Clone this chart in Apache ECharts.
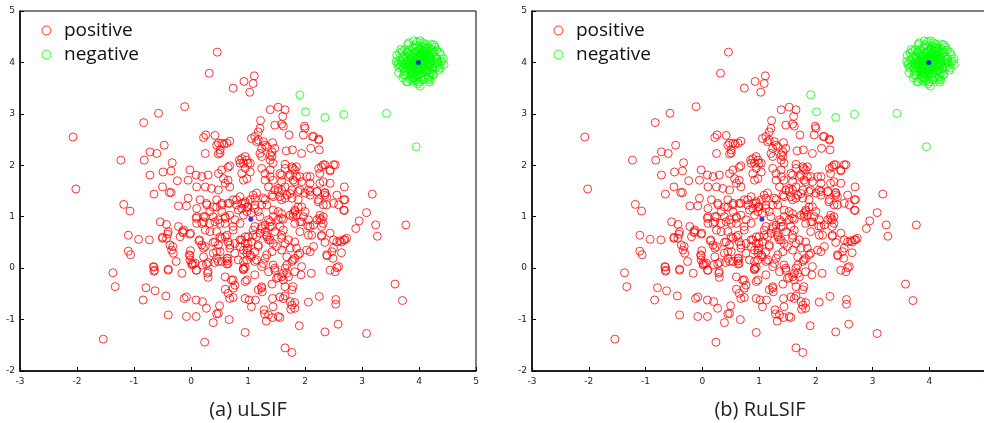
<!DOCTYPE html>
<html>
<head>
<meta charset="utf-8">
<script src="https://cdn.jsdelivr.net/npm/echarts@6/dist/echarts.min.js"></script>
<style>html,body{margin:0;padding:0;background:#fff;overflow:hidden;width:984px;height:423px}#c{width:992px;height:423px}</style>
</head>
<body>
<div id="c"></div>
<script>
var positive = [
[0.46,4.20],[0.32,3.79],[0.93,3.63],[0.74,3.50],[1.03,3.42],[1.11,3.74],[1.09,3.59],
[-0.11,3.14],[-0.57,3.01],[-0.83,2.83],[-2.07,2.55],[-1.23,2.10],[-2.02,1.54],
[1.39,3.08],[1.53,3.13],[1.65,3.08],[1.61,2.95],[1.22,2.87],[1.47,2.78],[1.59,2.80],[1.62,2.76],[1.21,2.72],[1.18,2.65],
[1.99,2.76],[2.00,2.72],[1.97,2.59],[1.72,2.59],[2.13,2.56],[2.24,2.51],
[1.12,2.56],[1.18,2.49],[1.27,2.46],[1.43,2.44],[1.33,2.36],
[0.22,2.54],[0.26,2.59],[0.42,2.58],[0.48,2.43],[0.58,2.41],[0.68,2.47],[0.25,2.23],[0.48,2.22],[0.51,2.24],
[-0.47,2.39],[-0.72,2.26],[-0.60,2.23],[-0.82,2.10],[-0.33,2.05],
[1.67,2.28],[1.78,2.30],[1.94,2.23],[2.10,2.33],[2.25,2.30],
[0.95,2.17],[1.04,2.04],[1.21,2.23],[1.24,2.17],[1.39,2.20],[1.42,2.17],[1.44,2.04],[1.65,2.02],[1.85,1.97],[1.79,1.94],[2.29,1.97],[2.35,2.01],[2.53,2.01],[2.44,1.89],[2.26,1.84],[2.50,2.01],
[1.30,1.84],[1.39,1.91],[1.56,1.84],[1.74,1.81],[2.03,1.78],[2.09,1.78],[1.82,1.68],[2.26,1.65],[2.44,1.65],[2.69,1.58],[3.18,1.44],
[1.91,1.52],[2.09,1.49],[2.21,1.49],[2.35,1.47],[2.56,1.42],
[-0.49,1.87],[-0.35,1.89],[-0.72,1.81],[-0.24,1.70],[-0.50,1.58],[-0.65,1.44],[-0.38,1.47],[-0.35,1.47],
[-0.02,1.91],[0.68,1.99],[0.65,1.96],[0.85,2.10],[0.92,2.04],
[-0.05,1.71],[0.09,1.81],[0.19,1.78],[0.30,1.81],[0.10,1.58],[0.25,1.58],[0.36,1.55],
[0.45,2.39],[0.54,2.43],[0.63,2.43],[0.51,2.30],[1.06,2.52],[1.15,2.46],[1.24,2.33],[1.30,2.39],[1.42,2.26],[1.47,2.33],[1.39,2.10],
[0.89,2.13],[0.98,2.10],[0.86,2.04],[1.00,2.04],[0.95,1.94],[1.04,1.87],[0.89,1.84],[0.98,1.74],[0.92,1.71],
[0.54,1.91],[0.48,1.84],[0.57,1.74],[0.65,1.71],[0.68,1.58],[0.48,1.52],[0.60,1.65],
[1.24,1.94],[1.39,1.78],[1.30,1.71],[1.44,1.71],[1.59,1.68],[1.36,1.58],[1.53,1.55],[1.65,1.58],[1.79,1.71],[1.85,1.78],[1.82,1.91],[1.71,1.78],[2.09,1.65],[2.00,1.46],[1.88,1.49],[1.77,1.52],
[1.59,1.81],[1.65,1.94],[1.77,1.97],[1.91,1.78],[1.94,1.68],
[2.15,2.56],[2.24,2.49],[2.32,2.01],[2.24,1.94],[2.44,1.91],[2.32,1.68],
[2.70,1.33],[2.69,1.12],[3.08,1.08],[2.95,0.92],[2.89,0.77],[3.24,0.84],[3.27,0.62],[3.77,0.84],
[2.38,1.23],[2.50,1.26],[2.23,1.29],[2.09,1.42],[2.35,1.42],
[1.79,1.06],[1.82,1.10],[1.74,1.03],[1.88,1.19],[1.85,1.03],[1.59,1.06],[1.62,0.95],
[1.65,1.36],[1.53,1.49],[1.74,1.45],[0.86,1.39],[1.09,1.42],[1.27,1.36],
[1.33,1.23],[1.12,1.23],[0.98,1.19],
[-1.18,1.24],[-1.07,1.11],
[-0.22,1.21],[-0.08,1.21],[-0.05,1.36],[0.16,1.33],[0.10,1.16],[0.28,1.23],[0.39,1.19],[0.45,1.33],
[0.10,1.00],[0.25,1.00],[0.39,1.00],[0.27,1.26],[0.54,1.26],[0.68,1.26],[0.80,1.23],[0.95,1.26],[0.33,1.10],
[0.83,1.13],[0.92,1.03],[0.68,1.03],[0.60,0.97],[0.51,0.87],
[1.47,1.52],[1.42,1.42],[1.30,1.33],[1.15,1.46],[1.12,1.36],[1.04,1.33],[0.95,1.29],[0.89,1.26],[0.80,1.33],[0.74,1.33],[0.65,1.26],[0.54,1.23],[0.45,1.19],
[1.00,1.19],[1.12,1.16],[1.24,1.23],[1.18,1.10],[1.06,1.07],[0.98,1.10],[0.89,1.16],
[0.54,1.10],[0.60,1.00],[0.77,0.94],[0.86,0.87],[0.74,0.81],[0.60,0.87],[0.48,0.94],
[1.44,1.39],[1.59,1.52],[1.56,1.39],[1.68,1.42],[1.77,1.36],[1.59,1.33],
[2.06,1.52],
[1.88,1.33],[1.94,1.19],[2.00,1.10],[1.82,1.13],[1.79,1.00],[1.97,1.00],[2.06,0.94],[1.91,0.90],[1.82,0.87],
[1.53,1.10],[1.44,1.00],[1.53,0.94],[1.59,0.97],[1.39,0.90],[1.30,0.84],[1.24,0.77],[1.42,0.81],
[2.21,1.49],[2.35,1.46],[2.38,1.39],[2.24,1.33],[2.32,1.23],[2.68,1.33],[2.59,1.23],[2.68,1.13],
[1.56,0.81],[1.62,0.74],[1.59,0.64],[1.71,0.55],[1.82,0.51],[1.85,0.39],
[2.32,1.00],[2.29,0.94],[2.26,0.97],[2.15,0.84],[2.05,0.82],[2.06,0.64],[1.94,0.90],[1.91,0.71],
[2.44,0.68],[2.29,0.62],[2.56,0.51],[2.70,0.55],[2.73,0.58],[2.50,0.39],[2.61,0.53],
[1.33,0.61],[1.39,0.55],[1.15,0.61],[0.95,0.61],[1.09,0.74],[1.24,0.81],[1.30,0.71],[1.39,0.81],[1.21,1.00],[1.36,0.94],[1.44,1.13],
[-1.10,0.64],[-0.92,0.56],[-0.73,0.55],
[-0.50,0.58],[-0.43,0.58],[-0.40,0.71],[-0.54,0.90],[-0.43,0.85],[-0.22,0.81],[-0.13,0.74],
[-0.19,0.61],[-0.15,0.71],[-0.01,0.68],[0.15,0.55],[0.10,0.87],[0.09,0.97],[0.22,1.00],[0.19,0.87],
[0.25,0.74],[0.33,0.71],[0.42,0.51],[0.54,0.58],[0.63,0.64],[0.74,0.74],[0.89,0.55],
[-0.41,0.66],[-0.50,0.60],[-0.14,0.69],[-0.02,0.66],[0.22,0.90],[0.33,0.87],[0.42,0.90],[0.14,0.53],
[1.21,0.68],[1.33,0.64],[1.47,0.71],[1.36,0.55],[1.44,0.48],[1.59,0.58],[1.65,0.48],
[1.12,0.81],[1.09,0.64],[1.00,0.61],[0.86,0.55],[0.77,0.48],[0.65,0.51],[0.60,0.61],[0.51,0.61],[0.45,0.71],[0.95,0.48],[1.06,0.51],
[2.26,1.03],[2.21,0.94],[2.32,0.87],[2.29,0.81],[2.09,0.81],[2.12,0.64],[2.29,0.64],[2.35,0.50],[2.50,0.55],[2.64,0.51],[2.68,0.55],
[1.88,0.26],[1.82,0.19],[1.77,0.13],[1.68,0.06],[1.65,0.00],[1.62,-0.10],
[1.44,0.06],[1.47,-0.04],[1.53,-0.18],[1.30,0.19],[1.27,0.09],[1.33,0.26],[1.42,0.32],[1.50,0.42],
[1.18,0.45],[1.12,0.32],[1.15,0.16],[1.04,0.26],[0.92,0.13],[0.98,0.35],[1.00,0.48],
[2.44,-0.04],[2.56,0.01],[2.53,-0.07],[2.39,0.24],[2.49,0.19],[2.47,0.32],[2.64,0.30],[2.11,-0.10],[1.93,-0.13],
[-1.10,0.33],[-1.06,0.26],[-0.65,0.02],[-0.65,-0.06],[-0.40,-0.02],[-0.16,-0.10],
[-0.26,0.13],[-0.31,0.29],[-0.34,0.35],[-0.37,0.45],
[-0.03,0.26],[-0.02,0.16],[-0.01,0.34],[0.19,0.45],[0.22,0.39],[0.39,0.29],[0.48,0.45],
[0.51,0.32],[0.68,0.39],[0.68,0.45],[0.86,0.42],[0.98,0.29],[1.00,0.39],[0.98,0.16],
[0.09,-0.04],[0.02,0.06],[0.04,0.08],[0.27,0.08],[0.63,0.08],[0.63,0.14],[0.64,0.19],[0.92,-0.02],[0.95,0.02],
[0.25,0.42],[0.39,0.50],[0.45,0.32],[-0.02,0.24],[0.01,0.09],[0.07,0.10],[0.22,0.22],[0.30,0.11],[0.41,0.11],[0.48,0.13],[0.20,0.06],[-0.32,0.42],
[1.59,0.35],[1.74,0.39],[1.68,0.22],[1.18,0.42],[1.06,0.22],[0.92,0.35],[0.77,0.29],[0.63,0.19],[0.54,0.13],[0.45,0.19],[0.65,0.09],[0.83,0.16],[1.12,0.13],[1.24,0.03],[1.47,0.00],[1.94,0.03],[1.79,0.16],[1.91,0.29],[2.03,0.35],
[2.15,0.42],[2.09,0.32],[2.38,0.26],[2.59,0.03],
[-1.37,-0.09],[-1.33,-0.36],[-0.79,-0.38],[-0.84,-0.62],[-0.63,-0.44],[-0.44,-0.54],
[-0.40,-0.91],[-0.08,-0.94],[0.09,-0.94],[-1.54,-1.38],[0.24,-1.44],
[-0.12,-0.59],[-0.08,-0.56],[0.09,-0.62],[0.20,-0.65],[0.27,-0.78],[0.50,-0.73],[0.45,-0.89],[0.39,-1.06],[0.67,-1.00],[0.95,-1.25],
[0.74,-0.57],[0.68,-0.59],[0.60,-0.41],[0.74,-0.23],[0.77,-0.33],[0.29,-0.10],[0.30,-0.18],[-0.66,0.03],[-0.64,-0.04],[-0.40,-0.04],[0.10,-0.04],[0.30,-0.07],
[3.58,-0.31],[3.71,-0.63],[2.58,-1.09],[2.35,-1.24],[3.08,-1.27],[1.90,-1.12],[1.65,-1.55],[1.77,-1.64],
[2.25,-0.55],[2.06,-0.66],[2.54,-0.61],[2.54,-0.70],[1.79,-0.36],[1.77,-0.42],
[1.77,-0.72],[1.75,-0.80],[1.82,-0.67],[1.56,-0.96],[1.43,-0.96],[1.32,-1.03],[1.28,-0.81],[1.29,-0.89],
[1.06,-0.75],[0.95,-0.59],[1.02,-0.62],[1.13,-0.62],[1.43,-0.59],[1.56,-0.56],[1.65,-0.54],
[1.24,-0.39],[1.25,-0.46],[1.42,-0.31],[1.50,-0.20],[1.62,-0.23],[1.71,-0.17],[1.65,-0.36],
[0.98,-0.23],[0.95,-0.26],[1.12,-0.13],[0.92,0.00],[0.92,-0.03],
[0.60,-0.17],[0.71,-0.23],[0.74,-0.39],[0.65,-0.49],[1.18,-0.42],[1.24,-0.36],[1.36,-0.91],[1.53,-0.94],[1.44,-0.75],[1.62,-0.59],[1.74,-0.65],[1.82,-0.78],
[0.48,-0.88],[1.36,-0.07],[1.59,-0.17],[1.68,-0.10],[1.82,-0.07]
];
var negative = [
[1.91,3.37],[2.01,3.04],[2.35,2.93],[2.68,2.99],[3.43,3.01],[3.95,2.36],
[3.91,4.42],[4.07,4.38],[4.26,4.34],[4.43,4.07],[4.31,4.24],[4.16,3.67],[4.02,3.54],[3.78,3.63],[3.73,3.76],[3.64,3.98],[3.61,4.14],[3.70,4.21],[4.37,3.89],[4.25,3.76],
[4.00,4.00],[3.95,4.05],[4.05,3.95],[3.90,3.92],[4.10,4.08],[4.02,4.15],[3.98,3.85],[3.85,4.10],[4.15,3.90],[4.20,4.05],[3.80,3.95],[4.08,4.22],[3.92,4.20],[3.88,3.80],[4.12,3.82],[4.22,4.18],[3.78,4.08],[3.83,4.25],[4.18,4.28],[3.96,4.30],[4.04,3.72],[3.92,3.70],[4.28,3.98],[3.72,3.90],[4.06,4.06],[3.94,3.96],[4.01,3.88],[3.99,4.12],[4.14,4.00],[3.86,4.00],[4.09,3.91],[3.91,4.09],[4.03,4.03],[3.97,3.97],[4.11,4.14],[3.89,3.86],[4.16,3.86],[3.84,4.16],[4.24,3.92],[3.76,4.02],[4.00,4.24],[4.00,3.76],[4.19,4.12],[3.81,3.88],[4.07,3.80],[3.93,4.18],[4.30,4.10],[3.70,4.00],[4.13,4.25],[3.87,3.75],[4.21,3.80],[3.79,4.20],[4.05,4.32],[3.95,3.65],[4.33,4.00],[3.67,4.05],[4.10,3.70],[3.90,4.30],[4.26,4.20],[3.74,3.82],[4.02,4.09],[3.98,3.91],[4.08,3.99],[3.92,4.01],[4.17,3.95],[3.83,4.05],[4.04,4.18],[3.96,3.82],[4.12,4.05],[3.88,3.95],[4.00,3.62],[3.85,3.68],[4.18,3.72],[4.35,3.85],[4.38,4.15],[3.65,3.90],[3.68,4.25],[4.22,4.35],[3.80,4.35],[3.97,4.40],
[3.93,4.03],[4.07,3.97],[4.03,4.11],[3.97,3.89],[4.13,4.11],[3.87,3.89],[4.11,3.87],[3.89,4.13],[4.18,4.02],[3.82,3.98],[4.02,4.18],[3.98,3.82],[4.06,4.14],[3.94,3.86],[4.14,3.94],[3.86,4.06],[4.21,4.09],[3.79,3.91],[4.09,4.21],[3.91,3.79],[4.25,4.03],[3.75,3.97],[4.03,4.26],[3.97,3.74],[4.15,4.19],[3.85,3.81],[4.19,3.85],[3.81,4.19],[4.10,4.30],[3.90,3.70],[4.29,3.90],[3.71,4.10],[4.05,4.05],[3.95,3.95],[4.00,4.08],[4.00,3.92],[4.08,4.00],[3.92,4.00],[4.12,4.22],[3.88,3.78],[4.24,3.88],[3.76,4.12],[4.17,4.07],[3.83,3.93],[4.07,4.17],[3.93,3.83],[4.20,3.96],[3.80,4.04],[3.96,4.22],[4.04,3.78],[4.27,4.12],[3.73,3.88],[4.12,4.28],[3.88,3.72],[4.32,4.06],[3.68,3.94],[4.06,3.66],[3.94,4.34],[4.23,4.25],[3.77,3.75],[4.25,3.77],[3.75,4.25],[4.16,4.14],[3.84,3.86],[4.14,3.84],[3.86,4.14],[4.01,4.01],[3.99,3.99],[4.09,4.04],[3.91,3.96],[4.04,3.91],[3.96,4.09],[4.28,4.30],[3.72,3.70],[4.34,3.94],[3.66,4.18],[4.40,4.02],[3.62,3.96],[4.02,4.42],[3.98,3.58],[4.18,3.62],[3.82,4.38],[4.11,4.36],[3.89,3.64],[4.36,4.20],[3.64,3.80],[4.44,3.96],[3.60,4.02],[4.20,3.66],[3.80,3.62]
];
var centers = [[1.05,0.95],[3.99,4.00]];
var xTicks = [-3,-2,-1,0,1,2,3,4,5];
var yTicks = [-2,-1,0,1,2,3,4,5];
var legendNames = ['positive','negative'];
var captions = ['(a) uLSIF','(b) RuLSIF'];

var grids = [{left:20, top:11, width:456, height:360}, {left:532, top:11, width:456, height:360}];
function xAxis(i){return {gridIndex:i, type:'value', min:xTicks[0], max:xTicks[xTicks.length-1], interval:1,
  axisLine:{onZero:false, lineStyle:{color:'#000', width:1.5}}, axisTick:{inside:true, length:4, lineStyle:{color:'#000'}},
  splitLine:{show:false}, axisLabel:{color:'#222', fontSize:9, fontFamily:'DejaVu Sans', margin:6}};}
function yAxis(i){return {gridIndex:i, type:'value', min:yTicks[0], max:yTicks[yTicks.length-1], interval:1,
  axisLine:{onZero:false, lineStyle:{color:'#000', width:1.5}}, axisTick:{inside:true, length:4, lineStyle:{color:'#000'}},
  splitLine:{show:false}, axisLabel:{color:'#222', fontSize:9, fontFamily:'DejaVu Sans', margin:5}};}
var series = [];
for (var i=0;i<2;i++){
  series.push({name:legendNames[0], type:'scatter', xAxisIndex:i, yAxisIndex:i, data:positive, symbol:'circle', symbolSize:8,
    itemStyle:{color:'rgba(0,0,0,0)', borderColor:'#ff0000', borderWidth:1}, silent:true, animation:false});
  series.push({name:legendNames[1], type:'scatter', xAxisIndex:i, yAxisIndex:i, data:negative, symbol:'circle', symbolSize:8,
    itemStyle:{color:'rgba(0,0,0,0)', borderColor:'#00ff00', borderWidth:1}, silent:true, animation:false});
  series.push({name:'center', type:'scatter', xAxisIndex:i, yAxisIndex:i, data:centers, symbol:'circle', symbolSize:5,
    itemStyle:{color:'#0000ff'}, z:5, silent:true, animation:false});
}
function legend(left){return {left:left, top:21, orient:'vertical', padding:0, itemGap:5, itemWidth:9, itemHeight:9,
  data:[{name:legendNames[0], itemStyle:{color:'rgba(0,0,0,0)', borderColor:'#ff0000', borderWidth:1}},
        {name:legendNames[1], itemStyle:{color:'rgba(0,0,0,0)', borderColor:'#00ff00', borderWidth:1}}],
  textStyle:{fontSize:19, color:'#111', fontFamily:'Open Sans', padding:[0,0,0,8]}, selectedMode:false};}
var chart = echarts.init(document.getElementById('c'), null, {renderer:'canvas'});
chart.setOption({
  animation:false,
  grid: grids.map(function(g){return Object.assign({show:true, borderColor:'#000', borderWidth:1}, g);}),
  xAxis:[xAxis(0), xAxis(1)],
  yAxis:[yAxis(0), yAxis(1)],
  legend:[legend(41.5), legend(553.5)],
  series: series,
  graphic:[
    {type:'text', x:248, y:410, style:{text:captions[0], font:'20px "Open Sans"', fill:'#222', textAlign:'center', textVerticalAlign:'middle'}},
    {type:'text', x:760, y:410, style:{text:captions[1], font:'20px "Open Sans"', fill:'#222', textAlign:'center', textVerticalAlign:'middle'}}
  ]
});
</script>
</body>
</html>
